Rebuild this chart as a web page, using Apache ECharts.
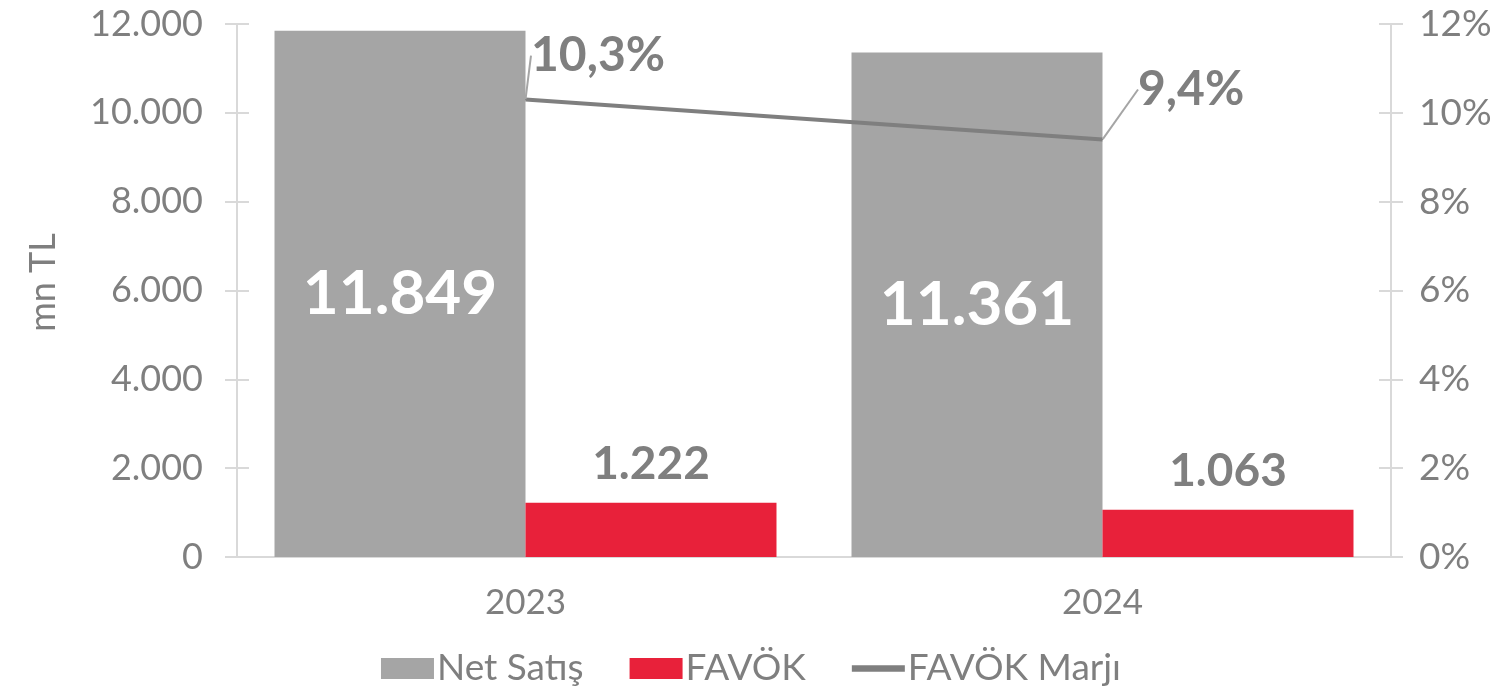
<!DOCTYPE html>
<html style="height: 100%">
<head>
<meta charset="utf-8">
<title>Net Satış / FAVÖK</title>
<script src="https://cdn.jsdelivr.net/npm/echarts@6/dist/echarts.min.js"></script>
</head>
<body style="height: 100%; margin: 0; background: #fff">
<div id="container" style="width: 1502px; height: 700px"></div>
<script>
var years = ['2023', '2024'];
var netSatis = [11849, 11361];
var favok = [1222, 1063];
var favokMarji = [10.3, 9.4];
var leftTicks = [0, 2000, 4000, 6000, 8000, 10000, 12000];
var rightTicks = [0, 2, 4, 6, 8, 10, 12];

var font = 'Lato, "Open Sans", sans-serif';
var gray = '#7f7f7f';
var axisGray = '#d9d9d9';

function trNum(v) {
    return String(v).replace(/\B(?=(\d{3})+(?!\d))/g, '.');
}

var myChart = echarts.init(document.getElementById('container'));

var baseLeft = {
    type: 'value', position: 'left', min: leftTicks[0], max: leftTicks[leftTicks.length - 1], interval: 2000,
    splitLine: { show: false }
};
var baseRight = {
    type: 'value', position: 'right', min: rightTicks[0], max: rightTicks[rightTicks.length - 1], interval: 2,
    splitLine: { show: false }
};

var option = {
    animation: false,
    textStyle: { fontFamily: font },
    grid: { left: 237, right: 111, top: 24, bottom: 143 },
    legend: {
        bottom: 8,
        left: 'center',
        itemWidth: 53,
        itemHeight: 21,
        itemGap: 46,
        textStyle: { fontSize: 37, color: gray, fontFamily: font, padding: [0, 0, 0, -2] },
        data: [
            { name: 'Net Satış', icon: 'rect' },
            { name: 'FAVÖK', icon: 'rect' },
            { name: 'FAVÖK Marjı', icon: 'path://M0,0h50v6h-50z' }
        ]
    },
    xAxis: {
        type: 'category',
        data: years,
        axisLine: { lineStyle: { color: axisGray, width: 2 } },
        axisTick: { show: false },
        axisLabel: { fontSize: 35, color: gray, margin: 28 }
    },
    yAxis: [
        Object.assign({}, baseLeft, {
            name: 'mn TL',
            nameLocation: 'middle',
            nameRotate: 90,
            nameGap: 176,
            nameTextStyle: { fontSize: 36, color: gray, padding: [0, 0, 0, 16] },
            axisLine: { show: true, lineStyle: { color: axisGray, width: 2 } },
            axisTick: { show: true, length: 12, lineStyle: { color: axisGray, width: 2 } },
            axisLabel: { fontSize: 36, color: gray, margin: 34, formatter: trNum }
        }),
        Object.assign({}, baseRight, {
            axisLine: { show: true, lineStyle: { color: axisGray, width: 2 } },
            axisTick: { show: true, length: 12, lineStyle: { color: axisGray, width: 2 } },
            axisLabel: { fontSize: 37, color: gray, margin: 28, formatter: '{value}%' }
        }),
        Object.assign({}, baseLeft, {
            axisLine: { show: false },
            axisTick: { show: true, inside: true, length: 12, lineStyle: { color: axisGray, width: 2 } },
            axisLabel: { show: false }
        }),
        Object.assign({}, baseRight, {
            axisLine: { show: false },
            axisTick: { show: true, inside: true, length: 12, lineStyle: { color: axisGray, width: 2 } },
            axisLabel: { show: false }
        })
    ],
    series: [
        {
            name: 'Net Satış',
            type: 'bar',
            data: netSatis,
            barGap: '0%',
            barCategoryGap: '13%',
            itemStyle: { color: '#a5a5a5' },
            label: {
                show: true, position: 'inside', color: '#fff', fontSize: 62, fontWeight: 'bold',
                formatter: function (p) { return trNum(p.value); }
            }
        },
        {
            name: 'FAVÖK',
            type: 'bar',
            data: favok,
            itemStyle: { color: '#e8213a' },
            label: {
                show: true, position: 'top', distance: 16, color: gray, fontSize: 46, fontWeight: 'bold',
                formatter: function (p) { return trNum(p.value); }
            }
        },
        {
            name: 'FAVÖK Marjı',
            type: 'line',
            yAxisIndex: 1,
            data: favokMarji,
            symbol: 'circle',
            symbolSize: 1,
            lineStyle: { color: gray, width: 4 },
            itemStyle: { color: gray },
            label: {
                show: true, position: 'right', color: gray, fontSize: 48, fontWeight: 'bold',
                formatter: function (p) { return String(p.value).replace('.', ',') + '%'; }
            },
            labelLine: { show: true, lineStyle: { color: '#a5a5a5', width: 2 } },
            labelLayout: function (p) {
                if (p.dataIndex === 0) return { dx: 0, dy: -44 };
                return { dx: 30, dy: -50 };
            }
        }
    ]
};
myChart.setOption(option);
</script>
</body>
</html>
